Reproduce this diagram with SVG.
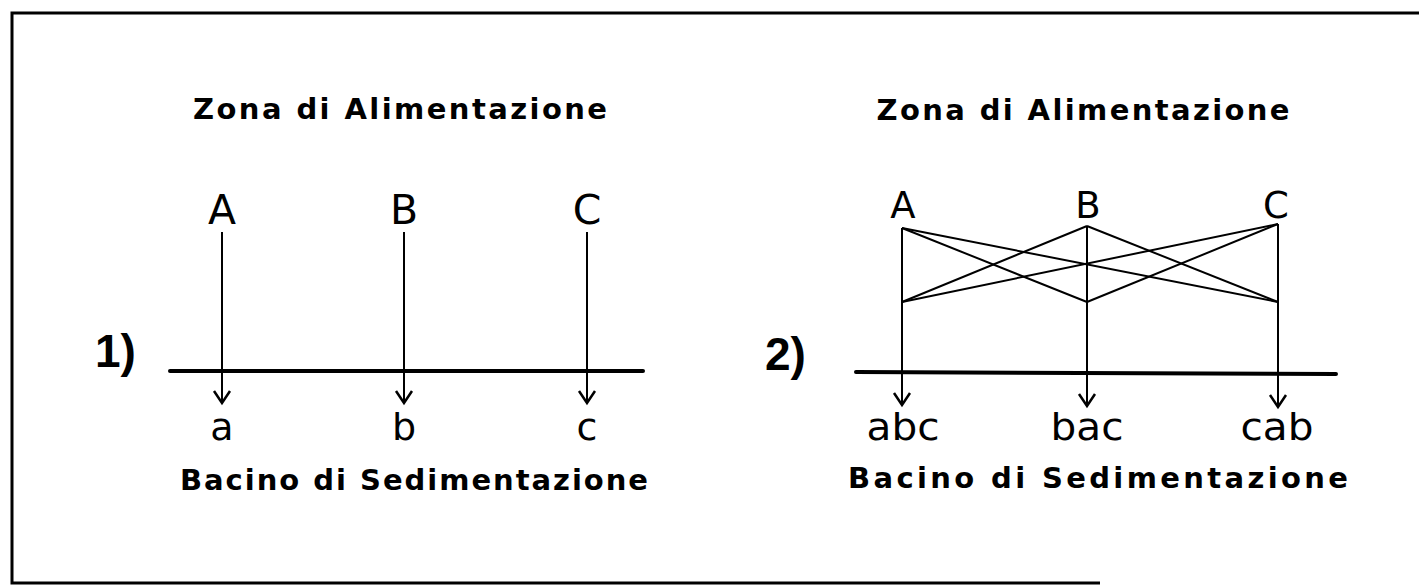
<svg xmlns="http://www.w3.org/2000/svg" width="1419" height="586" viewBox="0 0 1419 586">
<style>
.t{font-family:"DejaVu Sans","Liberation Sans",sans-serif;fill:#000}
.ttl{font-size:29px;font-weight:bold}
.big{font-size:41px}
.mid{font-size:37px}
.low{font-size:38px}
.num{font-size:46px;font-weight:bold;font-family:"Liberation Sans","DejaVu Sans",sans-serif}
.ln{stroke:#000;stroke-width:2;fill:none}
.base{stroke:#000;stroke-width:4;stroke-linecap:round;fill:none}
</style>
<defs>
<marker id="ah" markerUnits="userSpaceOnUse" viewBox="-15 -15 30 30" markerWidth="30" markerHeight="30" refX="0" refY="0" orient="auto" overflow="visible">
<path d="M-12,-8 L0,0 L-12,8" fill="none" stroke="#000" stroke-width="2.5"/>
</marker>
</defs>
<rect width="1419" height="586" fill="#fff"/>
<g id="frame">
<path d="M1419,13 L12,13 L12,583 L1100,583" fill="none" stroke="#000" stroke-width="3"/>
</g>
<g id="panel1">
<text class="t ttl" x="400" y="119" text-anchor="middle" textLength="414" lengthAdjust="spacing">Zona di Alimentazione</text>
<text class="t big" x="222" y="224" text-anchor="middle">A</text>
<text class="t big" x="404" y="224" text-anchor="middle">B</text>
<text class="t big" x="587" y="224" text-anchor="middle">C</text>
<text class="t num" x="95" y="367">1)</text>
<text class="t low" x="222" y="440" text-anchor="middle">a</text>
<text class="t low" x="404" y="440" text-anchor="middle">b</text>
<text class="t low" x="587" y="440" text-anchor="middle">c</text>
<text class="t ttl" x="414" y="490" text-anchor="middle" textLength="468" lengthAdjust="spacing">Bacino di Sedimentazione</text>
</g>
<g id="panel2">
<text class="t ttl" x="1083" y="120" text-anchor="middle" textLength="413" lengthAdjust="spacing">Zona di Alimentazione</text>
<text class="t mid" x="903" y="218" text-anchor="middle">A</text>
<text class="t mid" x="1088" y="218" text-anchor="middle">B</text>
<text class="t mid" x="1276" y="218" text-anchor="middle">C</text>
<text class="t num" x="765" y="370">2)</text>
<text class="t low" x="903" y="440" text-anchor="middle" textLength="73" lengthAdjust="spacingAndGlyphs">abc</text>
<text class="t low" x="1087" y="440" text-anchor="middle" textLength="73" lengthAdjust="spacingAndGlyphs">bac</text>
<text class="t low" x="1277" y="440" text-anchor="middle" textLength="73" lengthAdjust="spacingAndGlyphs">cab</text>
<text class="t ttl" x="1098" y="488" text-anchor="middle" textLength="500" lengthAdjust="spacing">Bacino di Sedimentazione</text>
</g>
<g id="connectors">
<line class="base" x1="170" y1="371" x2="643" y2="371"/>
<line class="ln" x1="222" y1="232" x2="222" y2="403" marker-end="url(#ah)"/>
<line class="ln" x1="404" y1="232" x2="404" y2="403" marker-end="url(#ah)"/>
<line class="ln" x1="587" y1="232" x2="587" y2="403" marker-end="url(#ah)"/>
<line class="base" x1="856" y1="372" x2="1336" y2="374"/>
<line class="ln" x1="902" y1="228" x2="902" y2="405" marker-end="url(#ah)"/>
<line class="ln" x1="1087" y1="226" x2="1087" y2="406" marker-end="url(#ah)"/>
<line class="ln" x1="1278" y1="224" x2="1278" y2="407" marker-end="url(#ah)"/>
<line class="ln" x1="902" y1="228" x2="1087" y2="302"/>
<line class="ln" x1="902" y1="228" x2="1278" y2="302"/>
<line class="ln" x1="902" y1="302" x2="1087" y2="226"/>
<line class="ln" x1="902" y1="302" x2="1278" y2="224"/>
<line class="ln" x1="1087" y1="226" x2="1278" y2="302"/>
<line class="ln" x1="1087" y1="302" x2="1278" y2="224"/>
</g>
</svg>
